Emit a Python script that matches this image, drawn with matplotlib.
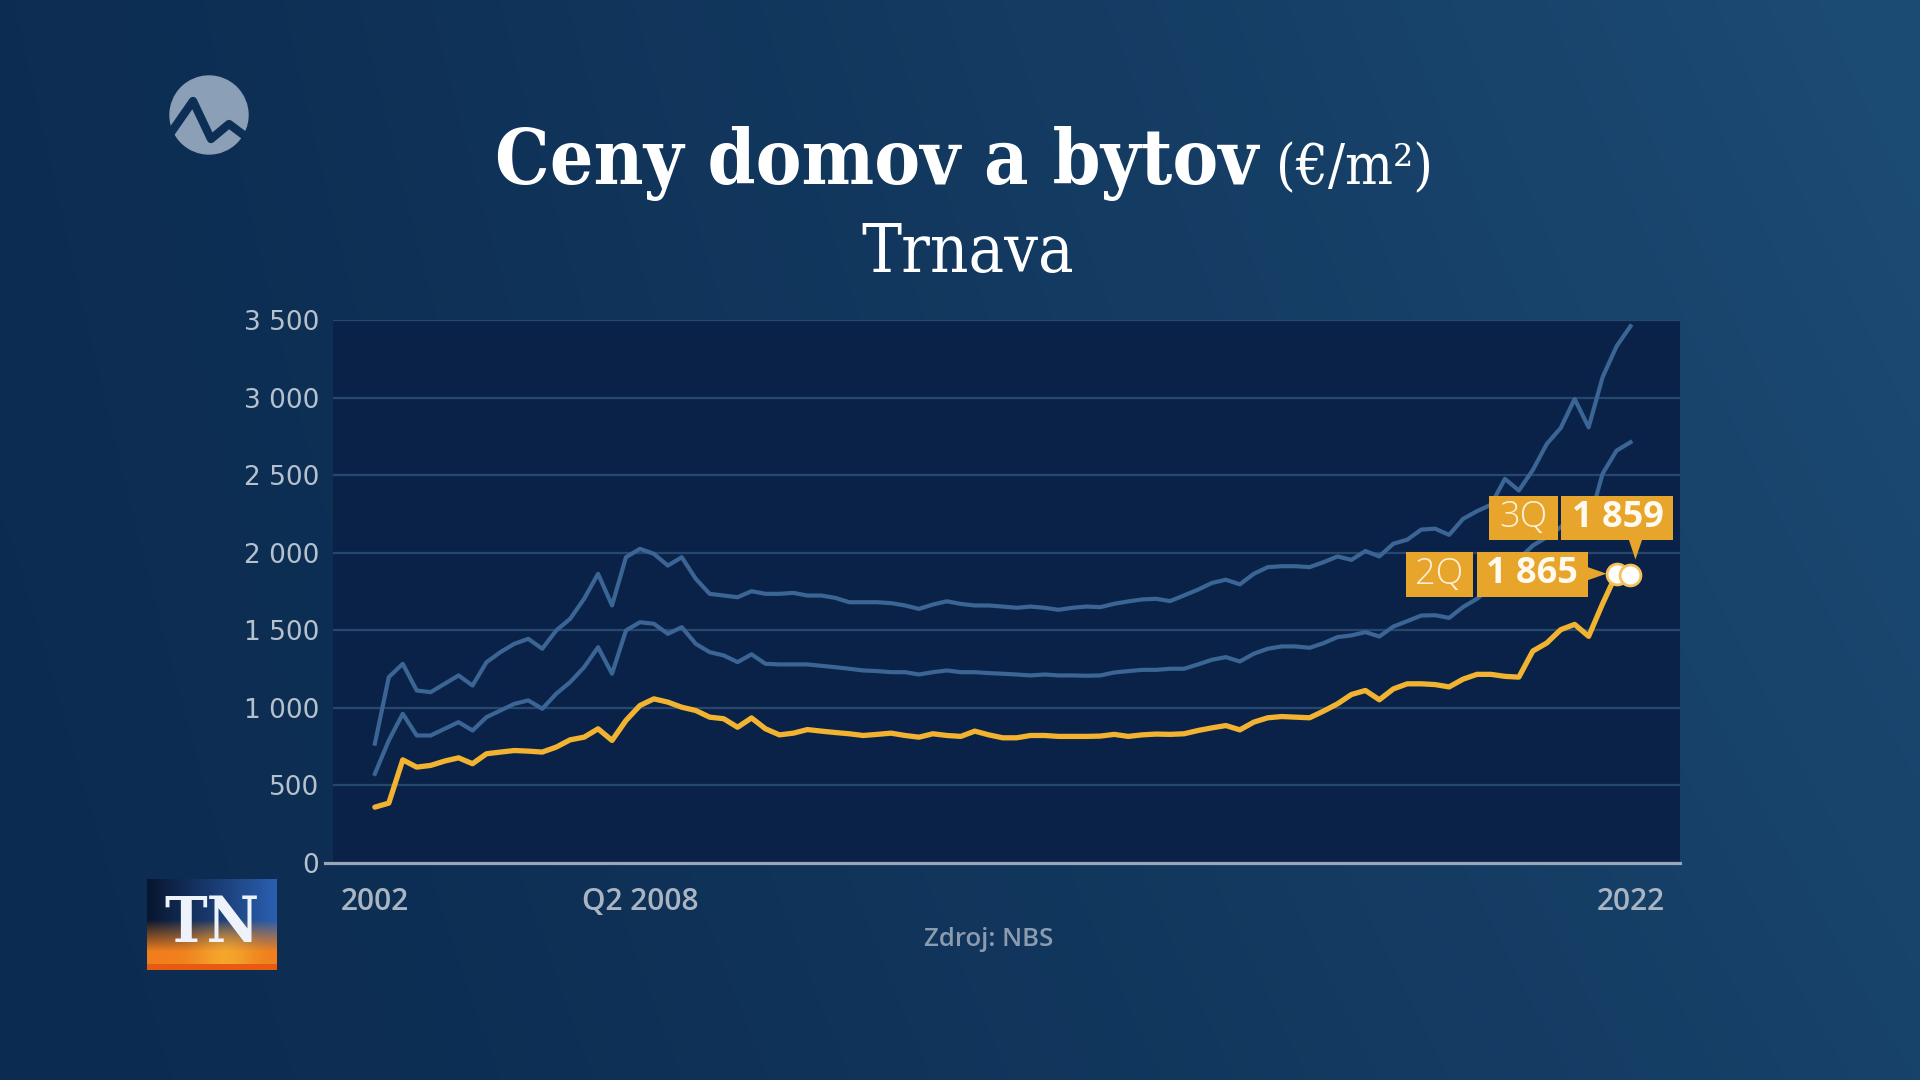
import numpy as np
import matplotlib
matplotlib.use("Agg")
import matplotlib.pyplot as plt
from matplotlib.patches import Rectangle, Polygon, Circle
from matplotlib.transforms import IdentityTransform

# ---------------- data ----------------
yellow = [360, 386, 665, 618, 629, 657, 678, 640, 704, 715, 725, 721, 715, 747, 794, 811,
          865, 790, 919, 1015, 1058, 1037, 1004, 983, 940, 930, 875, 935, 865, 826, 837,
          860, 850, 841, 833, 822, 829, 837, 822, 811, 833, 822, 816, 850, 826, 807, 807,
          822, 822, 816, 816, 816, 818, 829, 816, 826, 831, 829, 833, 854, 871, 886, 858,
          908, 936, 944, 940, 936, 979, 1026, 1086, 1112, 1052, 1122, 1155, 1155, 1150,
          1135, 1185, 1216, 1216, 1203, 1198, 1366, 1418, 1504, 1538, 1461, 1671, 1865, 1859]

upper_blue = [769, 1198, 1284, 1112, 1101, 1155, 1209, 1144, 1294, 1359, 1413, 1445, 1381,
              1499, 1574, 1703, 1864, 1660, 1971, 2025, 1993, 1917, 1971, 1832, 1735, 1724,
              1713, 1752, 1735, 1735, 1741, 1724, 1724, 1709, 1681, 1681, 1681, 1675, 1660,
              1638, 1666, 1687, 1670, 1660, 1660, 1653, 1645, 1653, 1645, 1632, 1645, 1653,
              1649, 1671, 1686, 1699, 1703, 1688, 1725, 1762, 1805, 1826, 1796, 1864, 1907,
              1913, 1913, 1907, 1939, 1976, 1954, 2011, 1976, 2058, 2084, 2149, 2155, 2115,
              2218, 2268, 2309, 2476, 2401, 2533, 2701, 2804, 2991, 2808, 3131, 3330, 3460]

lower_blue = [575, 790, 962, 822, 822, 865, 908, 854, 940, 983, 1026, 1048, 994, 1091, 1166,
              1262, 1391, 1220, 1499, 1552, 1542, 1477, 1520, 1413, 1359, 1338, 1295, 1345,
              1284, 1280, 1280, 1280, 1271, 1262, 1252, 1241, 1237, 1230, 1230, 1215, 1230,
              1241, 1230, 1230, 1224, 1220, 1215, 1209, 1215, 1209, 1209, 1207, 1209, 1228,
              1237, 1245, 1245, 1252, 1252, 1280, 1310, 1327, 1299, 1349, 1381, 1396, 1396,
              1387, 1417, 1456, 1467, 1488, 1460, 1524, 1559, 1595, 1597, 1580, 1650, 1703,
              1778, 1864, 1960, 2046, 2100, 2165, 2250, 2186, 2509, 2658, 2712]

x_tick_idx = [0, 19, 90]
x_tick_labels = ["2002", "Q2 2008", "2022"]
y_ticks = [0, 500, 1000, 1500, 2000, 2500, 3000, 3500]

label_quarters = ["2Q", "3Q"]
label_values = [1865, 1859]

title = "Ceny domov a bytov"
unit = "(€/m²)"
subtitle = "Trnava"
source = "Zdroj: NBS"

# ---------------- style ----------------
W, H = 1920, 1080
YEL = "#f2b330"
BOX = "#e8a52c"
BLUE = "#3a6594"
GRID = "#26486f"
PLOT_BG = "#0a2248"

fig = plt.figure(figsize=(W / 100, H / 100), dpi=100)

# background gradient
bg = fig.add_axes([0, 0, 1, 1], zorder=-10)
xx = np.linspace(0, 1, 480)[None, :]
yy = np.linspace(0, 1, 270)[:, None]
c0 = np.array([0x0c, 0x2b, 0x50]) / 255.0
c1 = np.array([0x1c, 0x4b, 0x74]) / 255.0
t = np.clip(0.72 * xx ** 1.3 + 0.25 * xx * (1 - yy) + 0.06 * (1 - yy), 0, 1)
img = c0[None, None, :] * (1 - t[..., None]) + c1[None, None, :] * t[..., None]
bg.imshow(img, extent=[0, W, H, 0], aspect="auto", interpolation="bicubic")
bg.set_xlim(0, W)
bg.set_ylim(H, 0)
bg.axis("off")

# circle logo with mountain line
bg.add_patch(Circle((209, 115), 39, color="#8b9fb7", zorder=2))
bg.plot([170, 193, 211, 229, 249], [134, 101, 139, 124, 139], color="#0d2f56",
        lw=6, solid_joinstyle="round", solid_capstyle="butt", zorder=3)

# ---------------- chart ----------------
ax = fig.add_axes([333 / W, 1 - 863 / H, (1680 - 333) / W, (863 - 320) / H])
ax.set_facecolor(PLOT_BG)
for s in ax.spines.values():
    s.set_visible(False)

n = len(yellow)
x = np.arange(n)
ax.set_xlim(-3.0, 93.55)
ax.set_ylim(0, 3500)

for v in y_ticks[1:]:
    ax.axhline(v, color=GRID, lw=1.6, zorder=1)
ax.axhline(0, xmin=-0.006, xmax=1.0, color="#9aa6b6", lw=2.3, zorder=2, clip_on=False)

ax.plot(x, upper_blue, color=BLUE, lw=3.0, zorder=3, solid_joinstyle="round")
ax.plot(x, lower_blue, color=BLUE, lw=3.0, zorder=3, solid_joinstyle="round")
ax.plot(x, yellow, color=YEL, lw=3.8, zorder=4, solid_joinstyle="round", solid_capstyle="round")

ax.set_yticks(y_ticks)
ax.set_yticklabels([f"{v:,}".replace(",", " ") for v in y_ticks])
ax.set_xticks(x_tick_idx)
ax.set_xticklabels(x_tick_labels)
ax.tick_params(axis="y", length=0, pad=10, labelsize=19, labelcolor="#b6c1ce")
ax.tick_params(axis="x", length=0, pad=17, labelsize=21.5, labelcolor="#a9b5c3")
for lab in ax.get_xticklabels():
    lab.set_fontweight("semibold")
    lab.set_fontfamily("Open Sans")
for lab in ax.get_yticklabels():
    lab.set_fontfamily("DejaVu Sans")

# markers for last two points
i2, i3 = n - 2, n - 1
ax.plot([i2], [yellow[i2]], "o", ms=15, mfc="white", mec="#f5c15a", mew=2, zorder=6)
ax.plot([i3], [yellow[i3]], "o", ms=15, mfc="white", mec="#f5c15a", mew=2, zorder=7)

# label boxes in pixel space, anchored to data points
fig.canvas.draw()
tr = ax.transData


def add_box(x0, y0, w, h):
    fig.add_artist(Rectangle((x0, y0), w, h, transform=IdentityTransform(),
                             facecolor=BOX, edgecolor="none", zorder=20))


def box_text(xc, yc, s, weight, color):
    fig.text(xc / W, yc / H, s, ha="center", va="center", color=color,
             fontsize=26, fontweight=weight, family="Open Sans", zorder=21)


# 3Q label (above last point)
px3, py3 = tr.transform((i3, yellow[i3]))
add_box(px3 - 141, py3 + 35, 69, 44)
add_box(px3 - 69, py3 + 35, 112, 44)
fig.add_artist(Polygon([(px3 - 2, py3 + 36), (px3 + 12, py3 + 36), (px3 + 5, py3 + 15)],
                       closed=True, transform=IdentityTransform(), facecolor=BOX,
                       edgecolor="none", zorder=20))
box_text(px3 - 106.5, py3 + 57, label_quarters[1], "light", "#fdf0d6")
box_text(px3 - 13, py3 + 57, f"{label_values[1]:,}".replace(",", " "), "bold", "#fffaf0")

# 2Q label (left of previous point)
px2, py2 = tr.transform((i2, yellow[i2]))
add_box(px2 - 211, py2 - 23, 67, 45)
add_box(px2 - 140, py2 - 23, 111, 45)
fig.add_artist(Polygon([(px2 - 30, py2 + 7), (px2 - 30, py2 - 7), (px2 - 10, py2)],
                       closed=True, transform=IdentityTransform(), facecolor=BOX,
                       edgecolor="none", zorder=20))
box_text(px2 - 177.5, py2 - 0.5, label_quarters[0], "light", "#fdf0d6")
box_text(px2 - 84.5, py2 - 0.5, f"{label_values[0]:,}".replace(",", " "), "bold", "#fffaf0")

# ---------------- titles ----------------
fig.text(1258 / W, 1 - 184 / H, title, ha="right", va="baseline", color="white",
         fontsize=55, fontweight="bold", family="DejaVu Serif", fontstretch="condensed")
fig.text(1276 / W, 1 - 184 / H, unit, ha="left", va="baseline", color="white",
         fontsize=40.5, family="DejaVu Serif", fontstretch="condensed")
fig.text(968 / W, 1 - 272 / H, subtitle, ha="center", va="baseline", color="white",
         fontsize=48, family="DejaVu Serif", fontstretch="condensed")
fig.text(989 / W, 1 - 939 / H, source, ha="center", va="center", color="#8d9bb0",
         fontsize=18.5, family="Open Sans", fontweight="semibold")

# ---------------- TN logo ----------------
lg = fig.add_axes([147 / W, 1 - 970 / H, 130 / W, 91 / H], zorder=5)
gx = np.linspace(0, 1, 130)[None, :]
gy = np.linspace(0, 1, 91)[:, None]
top_l = np.array([0x08, 0x16, 0x2e]) / 255.0
top_r = np.array([0x2a, 0x5f, 0xb0]) / 255.0
bot = np.array([0xf0, 0x7e, 0x1c]) / 255.0
hi = np.array([0xf7, 0xc0, 0x38]) / 255.0
topc = top_l * (1 - gx[..., None]) + top_r * gx[..., None]
s = np.clip((gy - 0.45) / 0.35, 0, 1)[..., None]
glow = np.exp(-((gx - 0.6) ** 2) / 0.05)[..., None] * s
logo = topc * (1 - s) + bot * s
logo = logo * (1 - 0.6 * glow) + hi * 0.6 * glow
logo[-6:, :, :] = np.array([0xe8, 0x5a, 0x10]) / 255.0
lg.imshow(np.clip(logo, 0, 1), extent=[0, 1, 0, 1], aspect="auto")
lg.set_xlim(0, 1)
lg.set_ylim(0, 1)
lg.axis("off")
lg.text(0.5, 0.5, "TN", ha="center", va="center", color="#eef3fb", fontsize=46,
        fontweight="bold", family="DejaVu Serif", fontstretch="condensed")

fig.savefig("out.png", dpi=100, facecolor=fig.get_facecolor())
